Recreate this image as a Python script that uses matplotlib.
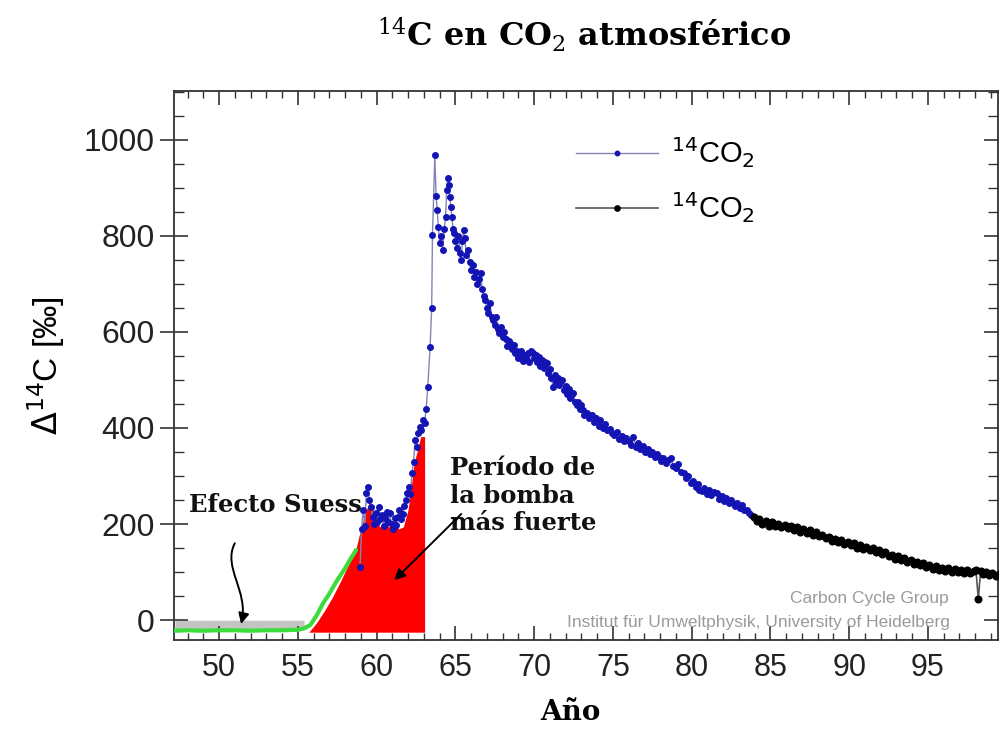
import matplotlib.pyplot as plt
from matplotlib.patches import FancyArrowPatch
from matplotlib.path import Path
from matplotlib.ticker import MultipleLocator

# serie azul (Vermunt/Schauinsland), año y delta 14C
blue_years = [58.95, 59.05, 59.15, 59.25, 59.35, 59.45, 59.55, 59.65, 59.75, 59.85,
              59.95, 60.05, 60.15, 60.25, 60.35, 60.45, 60.55, 60.65, 60.75, 60.85,
              60.95, 61.05, 61.15, 61.25, 61.35, 61.45, 61.55, 61.65, 61.75, 61.85,
              61.95, 62.05, 62.15, 62.25, 62.35, 62.45, 62.55, 62.65, 62.75, 62.85,
              62.95, 63.05, 63.15, 63.25, 63.4, 63.5, 63.55, 63.7, 63.78, 63.85,
              63.92, 64.0, 64.1, 64.2, 64.3, 64.38, 64.45, 64.52, 64.6, 64.65,
              64.72, 64.78, 64.85, 64.9, 65.0, 65.1, 65.2, 65.29, 65.38, 65.45,
              65.52, 65.6, 65.7, 65.8, 65.9, 66.0, 66.1, 66.2, 66.3, 66.4,
              66.5, 66.6, 66.7, 66.8, 66.9, 67.0, 67.1, 67.2, 67.3, 67.4,
              67.5, 67.6, 67.7, 67.8, 67.9, 68.0, 68.1, 68.2, 68.3, 68.4,
              68.5, 68.6, 68.7, 68.8, 68.9, 69.0, 69.1, 69.2, 69.3, 69.4,
              69.5, 69.6, 69.7, 69.8, 69.9, 70.0, 70.1, 70.2, 70.3, 70.4,
              70.5, 70.6, 70.7, 70.8, 70.9, 71.0, 71.1, 71.2, 71.3, 71.4,
              71.5, 71.6, 71.7, 71.8, 71.9, 72.0, 72.1, 72.2, 72.3, 72.4,
              72.5, 72.6, 72.7, 72.8, 72.9, 73.0, 73.1, 73.2, 73.35, 73.5,
              73.65, 73.8, 73.95, 74.1, 74.2, 74.35, 74.5, 74.65, 74.8, 74.95,
              75.1, 75.25, 75.4, 75.55, 75.7, 75.85, 76.0, 76.15, 76.3, 76.45,
              76.6, 76.75, 76.9, 77.05, 77.2, 77.35, 77.5, 77.65, 77.8, 77.9,
              78.05, 78.2, 78.35, 78.5, 78.7, 78.85, 79.0, 79.15, 79.3, 79.5,
              79.65, 79.8, 79.95, 80.1, 80.25, 80.4, 80.5, 80.65, 80.8, 80.95,
              81.1, 81.25, 81.4, 81.6, 81.75, 81.9, 82.05, 82.2, 82.35, 82.5,
              82.6, 82.75, 82.9, 83.05, 83.2, 83.35, 83.5, 83.65, 83.8]
blue_d14c = [110, 190, 230, 195, 265, 278, 250, 235, 215, 200,
             222, 205, 236, 210, 219, 195, 212, 226, 205, 222,
             200, 190, 212, 198, 215, 229, 210, 220, 238, 250,
             265, 278, 262, 306, 330, 375, 360, 390, 403, 395,
             417, 410, 440, 485, 569, 650, 802, 968, 882, 854,
             819, 785, 800, 770, 815, 840, 895, 920, 905, 880,
             860, 840, 815, 806, 790, 775, 800, 764, 750, 790,
             812, 795, 760, 771, 745, 729, 740, 715, 725, 700,
             710, 722, 690, 675, 667, 650, 640, 660, 630, 625,
             615, 630, 605, 598, 610, 590, 600, 585, 570, 580,
             577, 565, 572, 555, 560, 545, 548, 560, 540, 552,
             545, 556, 538, 560, 556, 545, 552, 538, 548, 530,
             542, 525, 538, 535, 515, 522, 505, 486, 510, 495,
             505, 490, 498, 500, 480, 488, 470, 482, 462, 470,
             473, 455, 448, 455, 440, 448, 437, 428, 432, 420,
             426, 412, 420, 405, 417, 400, 408, 395, 398, 390,
             385, 392, 378, 384, 372, 380, 372, 364, 381, 360,
             368, 356, 362, 350, 356, 345, 350, 340, 346, 340,
             332, 338, 328, 334, 337, 320, 316, 324, 308, 306,
             295, 300, 285, 290, 278, 284, 271, 268, 276, 262,
             270, 260, 266, 264, 252, 258, 248, 254, 244, 250,
             243, 238, 244, 234, 240, 230, 229, 224, 218]

# serie negra (Jungfraujoch), año y delta 14C
black_years = [83.95, 84.15, 84.3, 84.5, 84.7, 84.9, 85.1, 85.3, 85.5, 85.7,
               85.9, 86.1, 86.3, 86.5, 86.7, 86.9, 87.1, 87.3, 87.5, 87.7,
               87.9, 88.1, 88.3, 88.5, 88.7, 88.9, 89.1, 89.3, 89.5, 89.7,
               89.9, 90.1, 90.3, 90.5, 90.7, 90.9, 91.1, 91.3, 91.5, 91.7,
               91.9, 92.1, 92.3, 92.5, 92.7, 92.9, 93.1, 93.3, 93.5, 93.7,
               93.9, 94.1, 94.3, 94.5, 94.7, 94.9, 95.1, 95.3, 95.5, 95.7,
               95.9, 96.1, 96.3, 96.5, 96.7, 96.9, 97.1, 97.3, 97.5, 97.7,
               97.9, 98.05, 98.2, 98.35, 98.5, 98.7, 98.9, 99.1, 99.3, 99.5, 99.7]
black_d14c = [214, 206, 211, 200, 207, 197, 204, 195, 201, 193,
              199, 191, 196, 188, 193, 184, 190, 181, 187, 178,
              183, 175, 178, 170, 174, 165, 169, 162, 166, 158,
              163, 156, 160, 151, 157, 149, 153, 146, 150, 141,
              145, 137, 141, 133, 136, 128, 133, 125, 129, 121,
              125, 117, 121, 114, 118, 110, 114, 107, 112, 105,
              109, 103, 108, 101, 106, 100, 105, 99, 104, 98,
              102, 104, 45, 103, 97, 101, 95, 98, 92, 96, 90]

# zona roja: periodo de pruebas nucleares más intensas
red_years = [55.7, 56.2, 56.7, 57.2, 57.7, 58.2, 58.7, 59.0, 59.3, 59.6, 59.9, 60.2,
             60.5, 60.8, 61.1, 61.4, 61.7, 62.0, 62.2, 62.4, 62.6, 62.8, 63.05]
red_top = [-25, -5, 20, 48, 80, 115, 150, 190, 225, 250, 215, 194,
           205, 194, 208, 190, 194, 230, 278, 330, 354, 382, 382]
red_base = -25

# curva verde del efecto Suess
suess_years = [47.2, 48, 49, 50, 51, 52, 53, 54, 55, 55.4, 55.8, 56.2, 56.6,
               57.0, 57.5, 58.0, 58.3, 58.7]
suess_d14c = [-22, -21, -22, -21, -21, -22, -21, -21, -20, -17, -10, 10, 35,
              55, 83, 108, 125, 146]

fig = plt.figure(figsize=(9.99, 7.31), dpi=100)
ax = fig.add_axes([0.174, 0.124, 0.825, 0.752])

# banda gris bajo cero hasta 1955
band_x = [x for x in suess_years if x <= 55.4]
band_y = suess_d14c[:len(band_x)]
ax.fill_between(band_x, band_y, 0, color='#c4c4c4', lw=0, zorder=1)

ax.fill_between(red_years, red_top, red_base, color='#ff0000', lw=0, zorder=2)
ax.plot(suess_years, suess_d14c, color='#3ddc3d', lw=3, solid_capstyle='round', zorder=3)

l1, = ax.plot(blue_years, blue_d14c, color='#8484b4', lw=1.0, marker='o', ms=4,
              mfc='#1414b4', mec='#1414b4', zorder=4)
l2, = ax.plot(black_years, black_d14c, color='#555555', lw=1.2, marker='o', ms=4.8,
              mfc='black', mec='black', zorder=4)

ax.set_xlim(47.13, 99.45)
ax.set_ylim(-42, 1102)

ax.xaxis.set_major_locator(MultipleLocator(5))
ax.xaxis.set_minor_locator(MultipleLocator(1))
ax.yaxis.set_major_locator(MultipleLocator(200))
ax.yaxis.set_minor_locator(MultipleLocator(50))
ax.set_xticks(range(50, 100, 5))
ax.tick_params(axis='x', which='major', direction='in', length=10, width=1.2,
               top=True, labelsize=22, pad=9, colors='#333333', labelcolor='#222222')
ax.tick_params(axis='x', which='minor', direction='in', length=5, width=1,
               top=True, colors='#333333')
ax.tick_params(axis='y', which='major', direction='inout', length=20, width=1.2,
               right=True, labelsize=23, pad=4, colors='#333333', labelcolor='#222222')
ax.tick_params(axis='y', which='minor', direction='in', length=7, width=1,
               right=True, colors='#333333')
for lab in ax.get_xticklabels() + ax.get_yticklabels():
    lab.set_fontfamily('Liberation Sans')
for s in ax.spines.values():
    s.set_color('#333333')
    s.set_linewidth(1.3)

ax.set_ylabel(r'$\Delta^{14}$C [‰]', fontsize=24, fontfamily='Liberation Sans',
              math_fontfamily='dejavusans', labelpad=12)

leg = ax.legend([l1, l2], [r'$^{14}$CO$_2$', r'$^{14}$CO$_2$'], loc='upper left',
                bbox_to_anchor=(0.456, 0.966), frameon=False, handlelength=2.8,
                labelspacing=0.7, handletextpad=0.45, markerscale=0.8,
                prop={'family': 'Liberation Sans', 'size': 21})

# anotaciones
serif_b = dict(fontfamily='DejaVu Serif', fontweight='bold', fontsize=17.5, color='#111111')
ax.text(48.1, 240, 'Efecto Suess', ha='left', va='center', zorder=5, **serif_b)
ax.text(64.65, 342, 'Período de\nla bomba\nmás fuerte', ha='left', va='top',
        linespacing=1.2, zorder=5, **serif_b)
ax.annotate('', xy=(61.0, 79), xytext=(65.5, 225),
            arrowprops=dict(arrowstyle='-|>', color='black', lw=1.4,
                            mutation_scale=16), zorder=5)

wave = Path([(51.0, 160), (50.2, 110), (51.9, 60), (51.4, -8)],
            [Path.MOVETO, Path.CURVE4, Path.CURVE4, Path.CURVE4])
ax.add_patch(FancyArrowPatch(path=wave, arrowstyle='-|>', mutation_scale=16,
                             color='black', lw=1.4, zorder=5))

# créditos
ax.text(96.3, 46, 'Carbon Cycle Group', ha='right', va='center', fontsize=12.5,
        color='#9a9a9a', fontfamily='Liberation Sans')
ax.text(96.4, -4, 'Institut für Umweltphysik, University of Heidelberg', ha='right',
        va='center', fontsize=12.5, color='#9a9a9a', fontfamily='Liberation Sans')

fig.text(0.585, 0.952, r'$^{14}$C en CO$_2$ atmosférico', ha='center', va='center',
         fontsize=23, fontweight='bold', fontfamily='DejaVu Serif',
         math_fontfamily='dejavuserif')
fig.text(0.571, 0.025, 'Año', ha='center', va='center', fontsize=20,
         fontweight='bold', fontfamily='DejaVu Serif')

fig.savefig('out.png', dpi=100)
